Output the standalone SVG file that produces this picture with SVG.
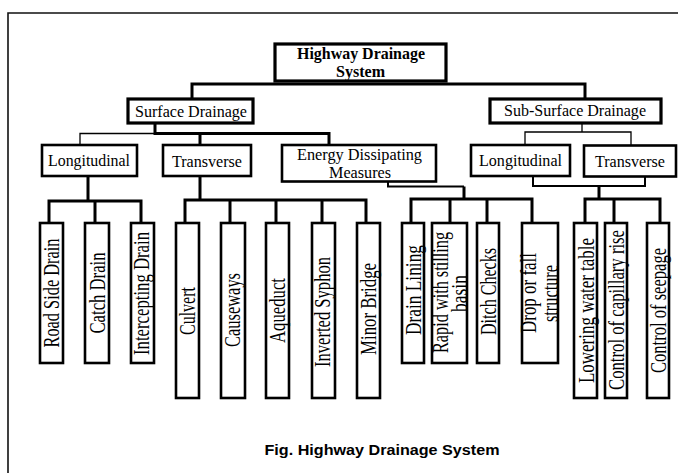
<svg xmlns="http://www.w3.org/2000/svg" width="678" height="473" viewBox="0 0 678 473">
<style>
  .bx{fill:#fff;stroke:#000;stroke-width:2.6}
  .bxk{fill:#fff;stroke:#000;stroke-width:3.2}
  .t{font-family:"Liberation Serif","Times New Roman",serif;font-size:16px;fill:#000;text-anchor:middle}
  .tb{font-family:"Liberation Serif","Times New Roman",serif;font-size:17px;font-weight:bold;fill:#000;text-anchor:middle}
  .v{font-family:"Liberation Serif","Times New Roman",serif;font-size:16px;fill:#000;text-anchor:middle}
  .c{fill:none;stroke:#000;stroke-width:3}
  .thin{fill:none;stroke:#000;stroke-width:1.3}
  .med{fill:none;stroke:#000;stroke-width:2}
  .cap{font-family:"Liberation Sans",Arial,sans-serif;font-size:14.5px;font-weight:bold;fill:#000;text-anchor:middle}
</style>
<rect width="678" height="473" fill="#fff"/>
<g id="frame"><path d="M8,473 V13 H678" fill="none" stroke="#111" stroke-width="1.6"/></g>

<g id="connectors">
  <path class="c" d="M192,99 V84 H585 V99"/>
  <path class="c" d="M155,123 V133.5 H329 V145"/>
  <path class="c" d="M200,133.5 V145"/>
  <path class="thin" d="M80,145 V133.5 H155"/>
  <path class="thin" d="M582,123 V132 M525,145 V132 H631 V145"/>
  <path class="c" d="M88,176 V201 M49,223 V201 H141 V223 M95,201 V223"/>
  <path class="c" d="M200,176 V200 M185,223 V200 H366 V223 M230,200 V223 M276,200 V223 M322,200 V223"/>
  <path class="med" d="M388,176 V186.5 H464"/>
  <path class="c" d="M464,186.5 V199 M411,223 V199 H532 V223 M450,199 V223 M487,199 V223"/>
  <path class="med" d="M533,176 V186 H645 V176"/>
  <path class="c" d="M599,186 V199 M585,223 V199 H660 V223 M614,199 V223"/>
</g>

<g id="n-root"><rect class="bxk" x="275" y="44" width="171" height="37"/>
  <text class="tb" x="361" y="59" textLength="128" lengthAdjust="spacingAndGlyphs">Highway Drainage</text>
  <text class="tb" x="360.5" y="77" textLength="49" lengthAdjust="spacingAndGlyphs">System</text></g>
<g id="n-surface"><rect class="bxk" x="128" y="99" width="125" height="24"/>
  <text class="t" x="191" y="116.5" textLength="112" lengthAdjust="spacingAndGlyphs">Surface Drainage</text></g>
<g id="n-subsurface"><rect class="bxk" x="490" y="99" width="171" height="24"/>
  <text class="t" x="575" y="116" textLength="142" lengthAdjust="spacingAndGlyphs">Sub-Surface Drainage</text></g>
<g id="n-long-s"><rect class="bx" x="42" y="145" width="95" height="31"/>
  <text class="t" x="89" y="166" textLength="82" lengthAdjust="spacingAndGlyphs">Longitudinal</text></g>
<g id="n-trans-s"><rect class="bx" x="163" y="145" width="88" height="31"/>
  <text class="t" x="207" y="166.5" textLength="70" lengthAdjust="spacingAndGlyphs">Transverse</text></g>
<g id="n-energy"><rect class="bx" x="282" y="145" width="154" height="36.5"/>
  <text class="t" x="359.5" y="159.5" textLength="125" lengthAdjust="spacingAndGlyphs">Energy Dissipating</text>
  <text class="t" x="360" y="177.5" textLength="62" lengthAdjust="spacingAndGlyphs">Measures</text></g>
<g id="n-long-ss"><rect class="bx" x="471" y="145" width="99" height="31"/>
  <text class="t" x="520.5" y="166" textLength="83" lengthAdjust="spacingAndGlyphs">Longitudinal</text></g>
<g id="n-trans-ss"><rect class="bx" x="584" y="145.5" width="92" height="31"/>
  <text class="t" x="630" y="166.5" textLength="70" lengthAdjust="spacingAndGlyphs">Transverse</text></g>

<g id="n-roadside"><rect class="bx" x="40" y="223" width="23" height="140"/>
  <text class="v" transform="translate(59,293) rotate(-90) scale(1,1.45)" textLength="109" lengthAdjust="spacingAndGlyphs">Road Side Drain</text></g>
<g id="n-catch"><rect class="bx" x="85" y="223" width="24" height="140"/>
  <text class="v" transform="translate(104.5,293) rotate(-90) scale(1,1.45)" textLength="81" lengthAdjust="spacingAndGlyphs">Catch Drain</text></g>
<g id="n-intercept"><rect class="bx" x="131" y="223" width="23" height="140"/>
  <text class="v" transform="translate(149,293.5) rotate(-90) scale(1,1.45)" textLength="123" lengthAdjust="spacingAndGlyphs">Intercepting Drain</text></g>

<g id="n-culvert"><rect class="bx" x="176" y="223" width="23" height="175"/>
  <text class="v" transform="translate(195,311) rotate(-90) scale(1,1.45)" textLength="48" lengthAdjust="spacingAndGlyphs">Culvert</text></g>
<g id="n-causeways"><rect class="bx" x="221" y="223" width="24" height="175"/>
  <text class="v" transform="translate(239.5,310) rotate(-90) scale(1,1.45)" textLength="74" lengthAdjust="spacingAndGlyphs">Causeways</text></g>
<g id="n-aqueduct"><rect class="bx" x="266" y="223" width="23" height="175"/>
  <text class="v" transform="translate(284.5,310.5) rotate(-90) scale(1,1.45)" textLength="65" lengthAdjust="spacingAndGlyphs">Aqueduct</text></g>
<g id="n-syphon"><rect class="bx" x="312" y="223" width="23" height="175"/>
  <text class="v" transform="translate(330,312) rotate(-90) scale(1,1.45)" textLength="110" lengthAdjust="spacingAndGlyphs">Inverted Syphon</text></g>
<g id="n-bridge"><rect class="bx" x="357" y="223" width="23" height="175"/>
  <text class="v" transform="translate(375.5,309) rotate(-90) scale(1,1.45)" textLength="92" lengthAdjust="spacingAndGlyphs">Minor Bridge</text></g>

<g id="n-lining"><rect class="bx" x="402" y="223" width="22" height="140"/>
  <text class="v" transform="translate(420.5,290) rotate(-90) scale(1,1.45)" textLength="90" lengthAdjust="spacingAndGlyphs">Drain Lining</text></g>
<g id="n-rapid"><rect class="bx" x="432" y="223" width="35" height="140"/>
  <text class="v" transform="translate(447.5,292.5) rotate(-90) scale(1,1.45)" textLength="121" lengthAdjust="spacingAndGlyphs">Rapid with stilling</text>
  <text class="v" transform="translate(466.5,293.5) rotate(-90) scale(1,1.45)" textLength="37" lengthAdjust="spacingAndGlyphs">basin</text></g>
<g id="n-ditch"><rect class="bx" x="477" y="223" width="22" height="140"/>
  <text class="v" transform="translate(495.5,291.5) rotate(-90) scale(1,1.45)" textLength="87" lengthAdjust="spacingAndGlyphs">Ditch Checks</text></g>
<g id="n-drop"><rect class="bx" x="522" y="223" width="36" height="140"/>
  <text class="v" transform="translate(535.5,293) rotate(-90) scale(1,1.45)" textLength="80" lengthAdjust="spacingAndGlyphs">Drop or fall</text>
  <text class="v" transform="translate(557.5,293.5) rotate(-90) scale(1,1.45)" textLength="57" lengthAdjust="spacingAndGlyphs">structure</text></g>

<g id="n-lowering"><rect class="bx" x="574" y="223" width="23" height="175"/>
  <text class="v" transform="translate(594,310.5) rotate(-90) scale(1,1.45)" textLength="145" lengthAdjust="spacingAndGlyphs">Lowering water table</text></g>
<g id="n-capillary"><rect class="bx" x="605" y="223" width="22" height="175"/>
  <text class="v" transform="translate(623.5,310) rotate(-90) scale(1,1.45)" textLength="160" lengthAdjust="spacingAndGlyphs">Control of capillary rise</text></g>
<g id="n-seepage"><rect class="bx" x="647" y="223" width="22" height="175"/>
  <text class="v" transform="translate(665.5,310.5) rotate(-90) scale(1,1.45)" textLength="125" lengthAdjust="spacingAndGlyphs">Control of seepage</text></g>

<g id="caption"><text class="cap" x="382" y="455" textLength="235" lengthAdjust="spacingAndGlyphs">Fig. Highway Drainage System</text></g>
</svg>
